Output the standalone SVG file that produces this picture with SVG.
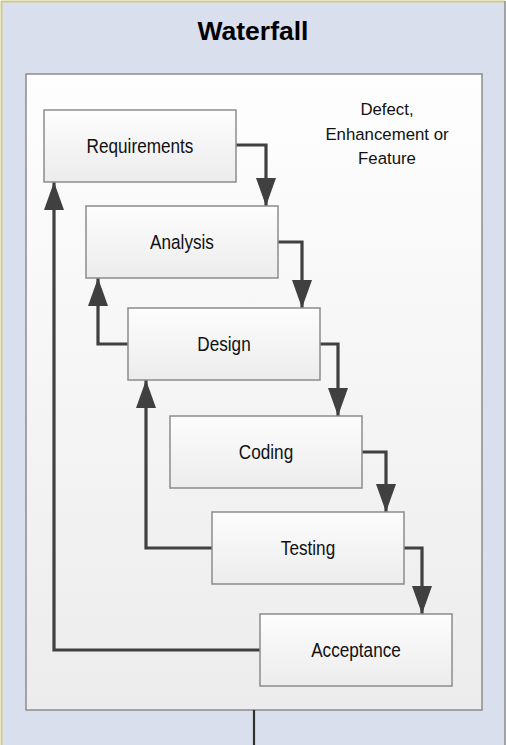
<svg xmlns="http://www.w3.org/2000/svg" width="506" height="745" viewBox="0 0 506 745">
<defs>
<linearGradient id="boxg" x1="0" y1="0" x2="0" y2="1">
<stop offset="0" stop-color="#fdfdfd"/>
<stop offset="1" stop-color="#ececec"/>
</linearGradient>
<linearGradient id="panelg" x1="0" y1="0" x2="0" y2="1">
<stop offset="0" stop-color="#fefefe"/>
<stop offset="1" stop-color="#ececec"/>
</linearGradient>
<marker id="arr" viewBox="0 0 28 20" refX="28" refY="10" markerWidth="28" markerHeight="20" markerUnits="userSpaceOnUse" orient="auto">
<path d="M0,0 L28,10 L0,20 Z" fill="#404040"/>
</marker>
<style>
.box{fill:url(#boxg);stroke:#8c8c8c;stroke-width:1.5}
.lbl{font-family:"Liberation Sans",Arial,sans-serif;font-size:19.5px;fill:#111;text-anchor:middle}
.note{font-family:"Liberation Sans",Arial,sans-serif;font-size:16.8px;fill:#111;text-anchor:middle}
.con{fill:none;stroke:#404040;stroke-width:3.2;stroke-linejoin:miter}
</style>
</defs>
<g id="frame">
<rect x="1" y="1" width="504" height="760" fill="#d9dfed"/>
<line x1="1.5" y1="1" x2="1.5" y2="745" stroke="#cfcb86" stroke-width="2"/>
<line x1="1" y1="1.5" x2="505" y2="1.5" stroke="#cfcb86" stroke-width="2"/>
<line x1="505" y1="1" x2="505" y2="745" stroke="#8c8c8c" stroke-width="1.5"/>
<text x="253" y="40" font-family="Liberation Sans,Arial,sans-serif" font-size="26.5" font-weight="bold" text-anchor="middle" fill="#000">Waterfall</text>
</g>
<g id="panel">
<rect x="26" y="74" width="456" height="636" fill="url(#panelg)" stroke="#8c8c8c" stroke-width="1.5"/>
</g>
<g id="note">
<text class="note" x="387" y="115">Defect,</text>
<text class="note" x="387" y="139.5">Enhancement or</text>
<text class="note" x="387" y="164">Feature</text>
</g>
<g id="connectors">
<polyline class="con" points="236,145 266,145 266,206" marker-end="url(#arr)"/>
<polyline class="con" points="278,242 302,242 302,308" marker-end="url(#arr)"/>
<polyline class="con" points="320,344 338,344 338,416" marker-end="url(#arr)"/>
<polyline class="con" points="362,452 386,452 386,512" marker-end="url(#arr)"/>
<polyline class="con" points="404,548 422,548 422,614" marker-end="url(#arr)"/>
<polyline class="con" points="128,344 98,344 98,278" marker-end="url(#arr)"/>
<polyline class="con" points="212,548 146,548 146,380" marker-end="url(#arr)"/>
<polyline class="con" points="260,650 54,650 54,182" marker-end="url(#arr)"/>
<line x1="254" y1="710" x2="254" y2="745" stroke="#303030" stroke-width="2.2"/>
</g>
<g id="requirements">
<rect class="box" x="44" y="110" width="192" height="72"/>
<text class="lbl" transform="translate(140,152.5) scale(0.88,1)">Requirements</text>
</g>
<g id="analysis">
<rect class="box" x="86" y="206" width="192" height="72"/>
<text class="lbl" transform="translate(182,248.5) scale(0.88,1)">Analysis</text>
</g>
<g id="design">
<rect class="box" x="128" y="308" width="192" height="72"/>
<text class="lbl" transform="translate(224,350.5) scale(0.88,1)">Design</text>
</g>
<g id="coding">
<rect class="box" x="170" y="416" width="192" height="72"/>
<text class="lbl" transform="translate(266,458.5) scale(0.88,1)">Coding</text>
</g>
<g id="testing">
<rect class="box" x="212" y="512" width="192" height="72"/>
<text class="lbl" transform="translate(308,554.5) scale(0.88,1)">Testing</text>
</g>
<g id="acceptance">
<rect class="box" x="260" y="614" width="192" height="72"/>
<text class="lbl" transform="translate(356,656.5) scale(0.88,1)">Acceptance</text>
</g>
</svg>
